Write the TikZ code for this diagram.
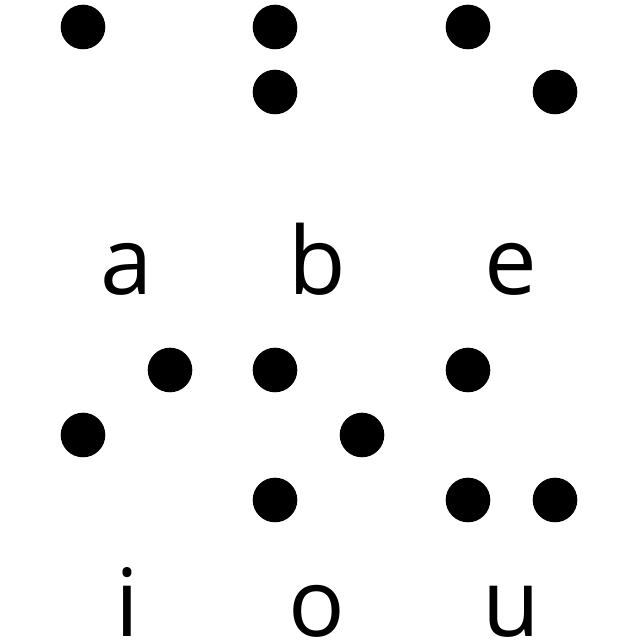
\documentclass[tikz,border=0pt]{standalone}
\usepackage{fontspec}
\setmainfont{Open Sans}
\tikzset{
  dot/.style={circle, fill=black, inner sep=0pt, minimum size=44.6pt},
  letter/.style={anchor=base, inner sep=0pt, font=\fontsize{94}{100}\selectfont},
}
\begin{document}
\begin{tikzpicture}[x=1pt, y=1pt]
  \useasboundingbox (0,0) rectangle (640,640);
  % top row: a, b, e
  \node[dot] (a1) at (83,613) {};
  \node[dot] (b1) at (275,613) {};
  \node[dot] (b2) at (275,548) {};
  \node[dot] (e1) at (468,613) {};
  \node[dot] (e5) at (555,548) {};
  \node[letter] (a) at (127,345) {a};
  \node[letter] (b) at (317,345) {b};
  \node[letter] (e) at (511,345) {e};
  % bottom row: i, o, u
  \node[dot] (i4) at (170,270) {};
  \node[dot] (i2) at (83,205) {};
  \node[dot] (o1) at (275,270) {};
  \node[dot] (o5) at (362,205) {};
  \node[dot] (o3) at (275,140) {};
  \node[dot] (u1) at (468,270) {};
  \node[dot] (u3) at (468,140) {};
  \node[dot] (u6) at (555,140) {};
  \node[letter] (i) at (127,4) {i};
  \node[letter] (o) at (317,4) {o};
  \node[letter] (u) at (511,4) {u};
\end{tikzpicture}
\end{document}
